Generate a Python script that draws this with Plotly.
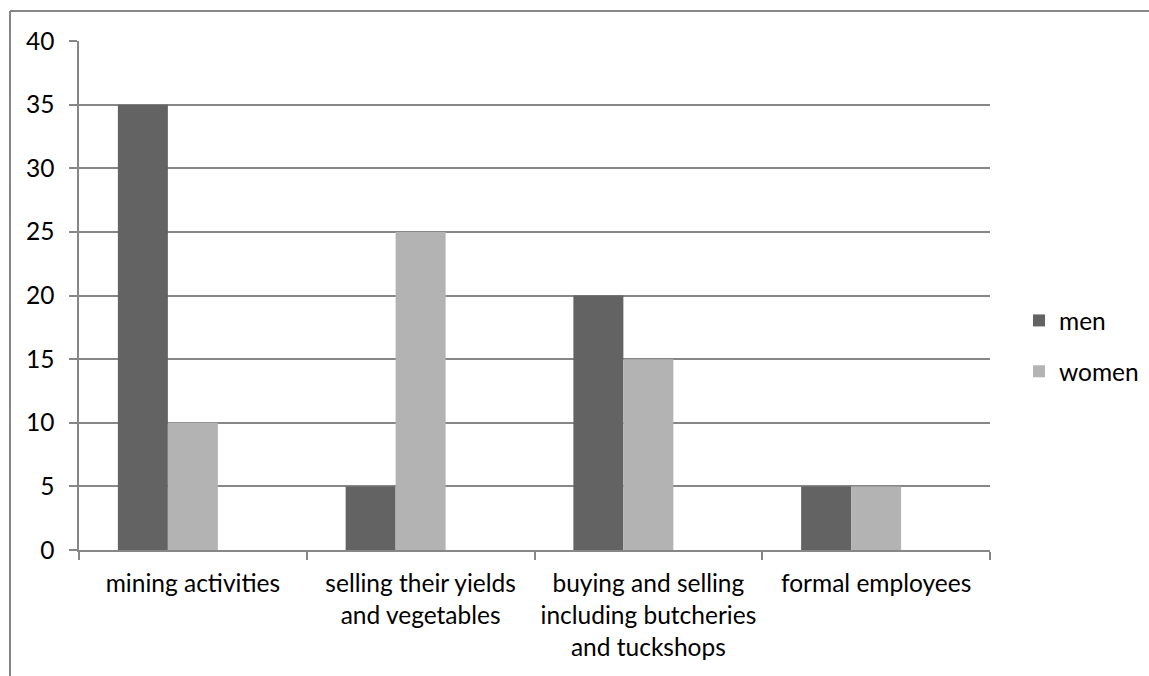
import plotly.graph_objects as go

categories = ["mining activities", "selling their yields<br>and vegetables",
              "buying and selling<br>including butcheries<br>and tuckshops", "formal employees"]
men = [35, 5, 20, 5]
women = [10, 25, 15, 5]
y_ticks = [0, 5, 10, 15, 20, 25, 30, 35, 40]

W, H = 1149, 676
L, R, T, B = 79, 990, 41, 550
pw, ph = R - L, B - T

def px(x):
    return (x - L) / pw

def py(y):
    return (B - y) / ph

FONT = "Lato"
FS = 24.5
GRID = "#878787"

fig = go.Figure()
fig.add_trace(go.Bar(x=categories, y=men, name="men", marker=dict(color="#636363", line=dict(width=0)),
                     width=0.2195, offset=-0.3293, legendgroup="men"))
fig.add_trace(go.Bar(x=categories, y=women, name="women", marker=dict(color="#b3b3b3", line=dict(width=0)),
                     width=0.2195, offset=-0.1098, legendgroup="women"))

fig.update_layout(
    width=W, height=H,
    margin=dict(l=L, r=W - R, t=T, b=H - B, autoexpand=False),
    paper_bgcolor="white", plot_bgcolor="white",
    barmode="overlay",
    font=dict(family=FONT, size=FS, color="#000000"),
    showlegend=True,
    legend=dict(x=px(1019), xanchor="left", y=py(346), yanchor="middle",
                font=dict(size=FS), tracegroupgap=16, traceorder="grouped",
                bgcolor="rgba(0,0,0,0)"),
    xaxis=dict(range=[-0.5, 3.5], showgrid=False, showline=True, linecolor=GRID, linewidth=1.5,
               ticks="outside", tickson="boundaries", ticklen=8, tickcolor=GRID, tickwidth=1.5,
               tickfont=dict(size=FS), ticklabelstandoff=11, fixedrange=True),
    yaxis=dict(range=[0, 40], tickvals=y_ticks, showgrid=True, gridcolor=GRID, gridwidth=1.5,
               showline=True, linecolor=GRID, linewidth=1.5, zeroline=False,
               ticks="outside", ticklen=8, tickcolor=GRID, tickwidth=1.5,
               tickfont=dict(size=FS), ticklabelstandoff=10),
    shapes=[
        dict(type="line", xref="paper", yref="paper", x0=px(10), y0=py(680), x1=px(10), y1=py(11),
             line=dict(color=GRID, width=2)),
        dict(type="line", xref="paper", yref="paper", x0=px(10), y0=py(11), x1=px(1152), y1=py(11),
             line=dict(color=GRID, width=2)),
    ],
)

fig.write_html("out.html")
